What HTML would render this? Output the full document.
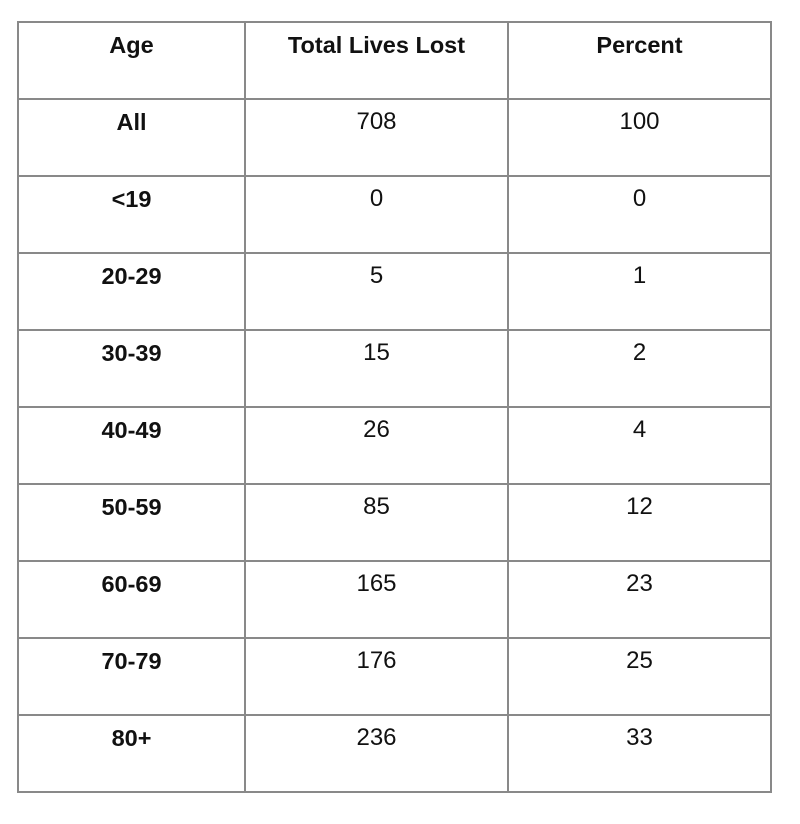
<!DOCTYPE html>
<html>
<head>
<meta charset="utf-8">
<style>
  html, body { margin:0; padding:0; background:#fff; }
  body { width:800px; height:824px; position:relative; overflow:hidden; font-family:"Liberation Sans", "DejaVu Sans", sans-serif; color:#111; }
  .h { position:absolute; height:2px; background:#898989; left:17px; width:755px; }
  .v { position:absolute; width:2px; background:#898989; top:21px; height:772px; }
  .c { position:absolute; height:24px; line-height:24px; font-size:24px; text-align:center; white-space:nowrap; }
  .b { font-weight:bold; font-size:23.5px; }
  .c1 { left:19px; width:225px; }
  .c2 { left:246px; width:261px; }
  .c3 { left:509px; width:261px; }
</style>
</head>
<body>
  <div class="h" style="top:21px"></div>
  <div class="h" style="top:98px"></div>
  <div class="h" style="top:175px"></div>
  <div class="h" style="top:252px"></div>
  <div class="h" style="top:329px"></div>
  <div class="h" style="top:406px"></div>
  <div class="h" style="top:483px"></div>
  <div class="h" style="top:560px"></div>
  <div class="h" style="top:637px"></div>
  <div class="h" style="top:714px"></div>
  <div class="h" style="top:791px"></div>
  <div class="v" style="left:17px"></div>
  <div class="v" style="left:244px"></div>
  <div class="v" style="left:507px"></div>
  <div class="v" style="left:770px"></div>

  <div class="c c1 b" style="top:33px">Age</div>
  <div class="c c2 b" style="top:33px">Total Lives Lost</div>
  <div class="c c3 b" style="top:33px">Percent</div>

  <div class="c c1 b" style="top:110px">All</div>
  <div class="c c2" style="top:110px">708</div>
  <div class="c c3" style="top:110px">100</div>

  <div class="c c1 b" style="top:187px">&lt;19</div>
  <div class="c c2" style="top:187px">0</div>
  <div class="c c3" style="top:187px">0</div>

  <div class="c c1 b" style="top:264px">20-29</div>
  <div class="c c2" style="top:264px">5</div>
  <div class="c c3" style="top:264px">1</div>

  <div class="c c1 b" style="top:341px">30-39</div>
  <div class="c c2" style="top:341px">15</div>
  <div class="c c3" style="top:341px">2</div>

  <div class="c c1 b" style="top:418px">40-49</div>
  <div class="c c2" style="top:418px">26</div>
  <div class="c c3" style="top:418px">4</div>

  <div class="c c1 b" style="top:495px">50-59</div>
  <div class="c c2" style="top:495px">85</div>
  <div class="c c3" style="top:495px">12</div>

  <div class="c c1 b" style="top:572px">60-69</div>
  <div class="c c2" style="top:572px">165</div>
  <div class="c c3" style="top:572px">23</div>

  <div class="c c1 b" style="top:649px">70-79</div>
  <div class="c c2" style="top:649px">176</div>
  <div class="c c3" style="top:649px">25</div>

  <div class="c c1 b" style="top:726px">80+</div>
  <div class="c c2" style="top:726px">236</div>
  <div class="c c3" style="top:726px">33</div>
</body>
</html>
